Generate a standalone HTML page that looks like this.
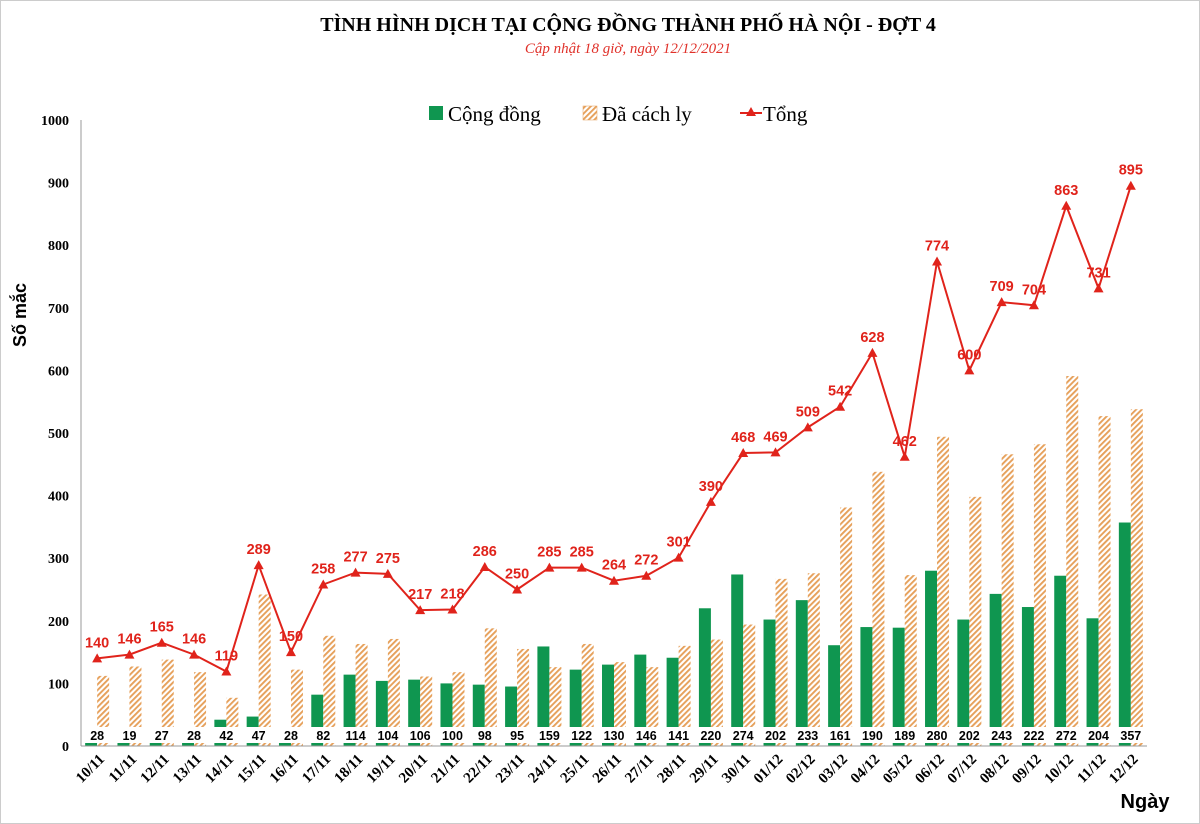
<!DOCTYPE html>
<html><head><meta charset="utf-8"><style>
body{margin:0;background:#fff;}
svg{display:block}
</style></head><body>
<svg id="c" width="1200" height="824" xmlns="http://www.w3.org/2000/svg">
<defs>
<pattern id="h" patternUnits="userSpaceOnUse" width="4" height="4" patternTransform="rotate(45)">
<rect width="4" height="4" fill="#fff"/><rect width="1.9" height="4" fill="#e6a05a"/>
</pattern>
</defs>
<rect x="0.5" y="0.5" width="1199" height="823" fill="#fff" stroke="#ccc"/>
<text x="628" y="31" text-anchor="middle" font-family="Liberation Serif" font-weight="bold" font-size="20">TÌNH HÌNH DỊCH TẠI CỘNG ĐỒNG THÀNH PHỐ HÀ NỘI - ĐỢT 4</text>
<text x="628" y="53" text-anchor="middle" font-family="Liberation Serif" font-style="italic" font-size="15" fill="#e0312a">Cập nhật 18 giờ, ngày 12/12/2021</text>
<rect x="429" y="106" width="14" height="14" fill="#0f9650"/>
<text x="448" y="121" font-family="Liberation Serif" font-size="21">Cộng đồng</text>
<rect x="583" y="106" width="14" height="14" fill="url(#h)" stroke="#e6a05a" stroke-width="0.5"/>
<text x="602" y="121" font-family="Liberation Serif" font-size="21">Đã cách ly</text>
<line x1="740" y1="113" x2="762" y2="113" stroke="#e0231b" stroke-width="2"/>
<polygon points="751,107 756,116 746,116" fill="#e0231b"/>
<text x="763" y="121" font-family="Liberation Serif" font-size="21">Tổng</text>
<text transform="translate(26,315) rotate(-90)" text-anchor="middle" font-family="Liberation Sans" font-weight="bold" font-size="18">Số mắc</text>
<text x="1145" y="808" text-anchor="middle" font-family="Liberation Sans" font-weight="bold" font-size="20">Ngày</text>
<g id="g"></g>
</svg>
<script>
var T=[140,146,165,146,119,289,150,258,277,275,217,218,286,250,285,285,264,272,301,390,468,469,509,542,628,462,774,600,709,704,863,731,895];
var C=[28,19,27,28,42,47,28,82,114,104,106,100,98,95,159,122,130,146,141,220,274,202,233,161,190,189,280,202,243,222,272,204,357];
var D=[];for(var i=10;i<=30;i++)D.push(i+'/11');for(var i=1;i<=12;i++)D.push((i<10?'0':'')+i+'/12');
var s='',y0=746,k=0.626,x0=81,w=1066/33;
function Y(v){return y0-v*k;}
for(var v=0;v<=1000;v+=100){s+='<text x="69" y="'+(Y(v)+5)+'" text-anchor="end" font-family="Liberation Serif" font-weight="bold" font-size="14">'+v+'</text>';}
var pts=[];
for(var i=0;i<33;i++){var c=x0+w*(i+0.5),h=T[i]-C[i];
s+='<rect x="'+(c-12)+'" y="'+Y(C[i])+'" width="12" height="'+C[i]*k+'" fill="#0f9650"/>';
s+='<rect x="'+c+'" y="'+Y(h)+'" width="12" height="'+h*k+'" fill="url(#h)"/>';
s+='<rect x="'+(c-15)+'" y="727" width="30" height="16" fill="#fff"/>';
s+='<text x="'+c+'" y="740" text-anchor="middle" font-family="Liberation Sans" font-weight="bold" font-size="12.5">'+C[i]+'</text>';
s+='<text transform="translate('+(c+8)+',760) rotate(-45)" text-anchor="end" font-family="Liberation Serif" font-weight="bold" font-size="15">'+D[i]+'</text>';
pts.push(c+','+Y(T[i]));}
s+='<line x1="'+x0+'" y1="120" x2="'+x0+'" y2="746" stroke="#999"/><line x1="'+x0+'" y1="746" x2="1147" y2="746" stroke="#999"/>';
s+='<polyline points="'+pts.join(' ')+'" fill="none" stroke="#e0231b" stroke-width="2"/>';
for(var i=0;i<33;i++){var c=x0+w*(i+0.5),y=Y(T[i]);
s+='<polygon points="'+c+','+(y-5)+' '+(c+5)+','+(y+4)+' '+(c-5)+','+(y+4)+'" fill="#e0231b"/>';
s+='<text x="'+c+'" y="'+(y-11)+'" text-anchor="middle" font-family="Liberation Sans" font-weight="bold" font-size="14.5" fill="#e0231b">'+T[i]+'</text>';}
document.getElementById('g').innerHTML=s;
</script>
</body></html>
